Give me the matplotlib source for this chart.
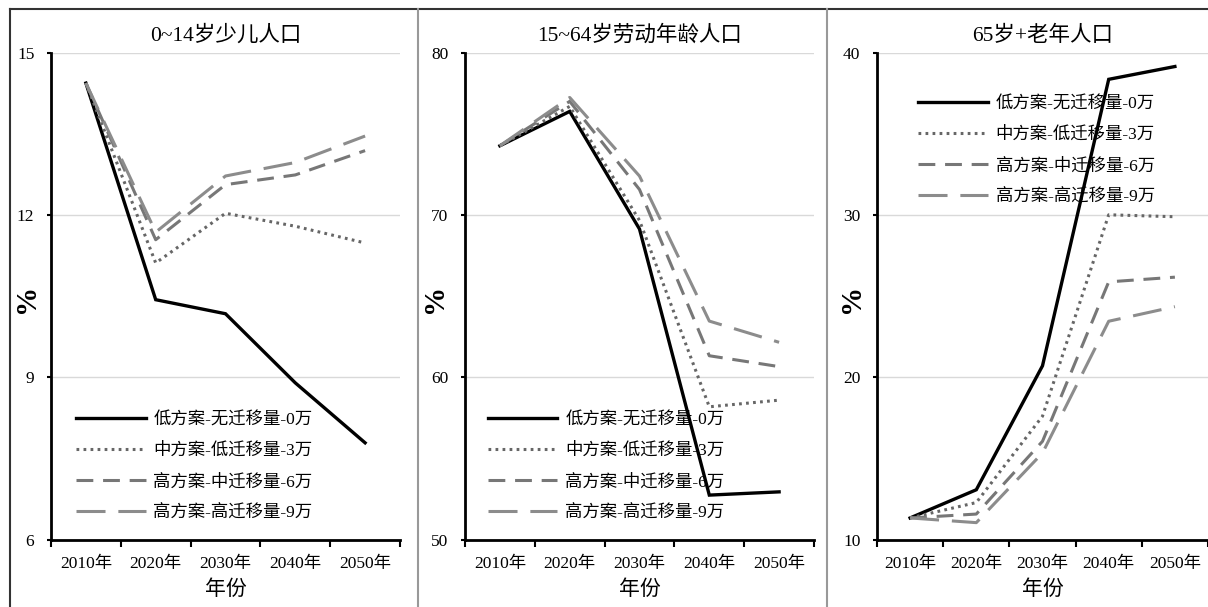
import matplotlib.pyplot as plt
from matplotlib.lines import Line2D

plt.rcParams['font.family'] = ['Liberation Serif', 'Noto Sans CJK SC', 'DejaVu Sans']

years = ['2010年', '2020年', '2030年', '2040年', '2050年']
labels = ['低方案-无迁移量-0万', '中方案-低迁移量-3万', '高方案-中迁移量-6万', '高方案-高迁移量-9万']
titles = ['0~14岁少儿人口', '15~64岁劳动年龄人口', '65岁+老年人口']

# 0~14
child_low = [14.45, 10.44, 10.18, 8.90, 7.79]
child_mid = [14.45, 11.12, 12.04, 11.80, 11.49]
child_high6 = [14.45, 11.55, 12.57, 12.75, 13.20]
child_high9 = [14.45, 11.69, 12.73, 12.98, 13.47]
# 15~64
work_low = [74.3, 76.42, 69.16, 52.74, 52.94]
work_mid = [74.3, 76.73, 69.69, 58.19, 58.60]
work_high6 = [74.3, 77.04, 71.60, 61.34, 60.67]
work_high9 = [74.3, 77.28, 72.43, 63.48, 62.17]
# 65+
old_low = [11.33, 13.07, 20.72, 38.40, 39.19]
old_mid = [11.33, 12.28, 17.61, 30.04, 29.92]
old_high6 = [11.33, 11.57, 16.06, 25.90, 26.19]
old_high9 = [11.33, 11.04, 15.34, 23.47, 24.37]

series = [
    [child_low, child_mid, child_high6, child_high9],
    [work_low, work_mid, work_high6, work_high9],
    [old_low, old_mid, old_high6, old_high9],
]
yticks = [[6, 9, 12, 15], [50, 60, 70, 80], [10, 20, 30, 40]]

styles = [
    dict(color='black', lw=2.4, ls='-'),
    dict(color='#666666', lw=2.2, ls=(0, (0.9, 1.4))),
    dict(color='#777777', lw=2.2, ls=(0, (5.5, 3.2))),
    dict(color='#8c8c8c', lw=2.2, ls=(0, (9.5, 4.2))),
]

W, H = 1208, 607
fig = plt.figure(figsize=(W / 100, H / 100), dpi=100)

# panel boxes in pixels: left, width
boxes = [(51, 349), (465, 349), (877, 331)]
top_px, bot_px = 53.4, 539.5
# legend anchors (axes coords)
leg_pos = [(0.072, 0.15), (0.066, 0.15), (0.125, 0.80)]
ylab_x = [-0.031, -0.05, -0.037]

for i in range(3):
    left, width = boxes[i]
    ax = fig.add_axes([left / W, 1 - bot_px / H, width / W, (bot_px - top_px) / H])
    for s, st, lab in zip(series[i], styles, labels):
        ax.plot(years, s, label=lab, solid_joinstyle='miter', **st)
    ax.set_xlim(-0.5, 4.5)
    ax.set_ylim(yticks[i][0], yticks[i][-1])
    ax.set_yticks(yticks[i])
    ax.set_xticks([-0.5, 0.5, 1.5, 2.5, 3.5, 4.5], minor=True)
    ax.tick_params(axis='x', which='major', length=0, pad=12, labelsize=12.5)
    ax.tick_params(axis='x', which='minor', length=5, width=1.5, direction='out')
    ax.tick_params(axis='y', length=3, width=1.5, pad=9, labelsize=12.5)
    ax.grid(axis='y', color='#d9d9d9', lw=1)
    ax.set_axisbelow(True)
    for sp in ['top', 'right']:
        ax.spines[sp].set_visible(False)
    for sp in ['left', 'bottom']:
        ax.spines[sp].set_linewidth(2)
    ax.set_title(titles[i], fontsize=15.5, pad=9)
    ax.set_xlabel('年份', fontsize=15, labelpad=6)
    ax.set_ylabel('%', fontsize=21, fontweight='bold')
    ax.yaxis.set_label_coords(ylab_x[i], 0.495)
    ax.legend(loc='center left', bbox_to_anchor=leg_pos[i], frameon=False, fontsize=12.5,
              handlelength=4.0, handletextpad=0.45, labelspacing=0.85,
              borderpad=0, borderaxespad=0)

# outer frame and separators
fig.add_artist(Line2D([10 / W, 10 / W], [0, 1 - 9.3 / H], color='#333333', lw=1.5))
fig.add_artist(Line2D([10 / W, 1], [1 - 9.3 / H, 1 - 9.3 / H], color='#333333', lw=1.5))
for xs in [418, 827]:
    fig.add_artist(Line2D([xs / W, xs / W], [0, 1 - 9.3 / H], color='#999999', lw=1.5))

fig.savefig('out.png', dpi=100, facecolor='white')
